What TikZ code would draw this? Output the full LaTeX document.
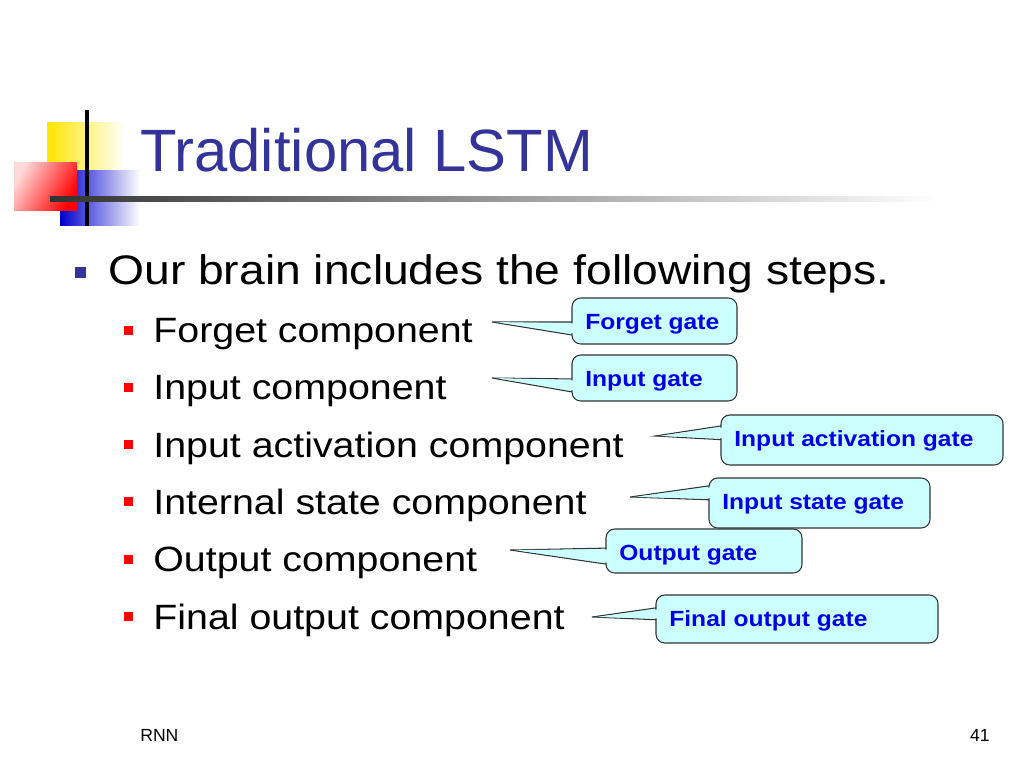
\documentclass[tikz,border=0pt]{standalone}
\usepackage{fontspec}
\setmainfont{Liberation Sans}
\newfontfamily\widesans{Liberation Sans}[FakeStretch=1.12]
\usetikzlibrary{positioning}
\definecolor{titleblue}{RGB}{51,51,153}
\definecolor{calloutfill}{RGB}{204,255,255}
\definecolor{callouttext}{RGB}{0,0,230}
\begin{document}
\begin{tikzpicture}[x=0.02cm,y=-0.02cm,
    item/.style={anchor=west,inner sep=0pt,font=\widesans\fontsize{20}{24}\selectfont},
    callbox/.style={draw=black!80,fill=calloutfill,rounded corners=5pt,line width=0.6pt},
    wedgefill/.style={fill=calloutfill,draw=black!80,line width=0.6pt},
    calltext/.style={anchor=west,inner sep=0pt,text=callouttext,font=\widesans\bfseries\fontsize{12.5}{14}\selectfont}]
\useasboundingbox (0,0) rectangle (1024,768);
% logo
\shade[left color=yellow!80!orange,right color=white] (47,122) rectangle (125,190);
\shade[left color=blue!80!black,right color=white] (60,170) rectangle (140,225);
\shade[left color=red!15,right color=red,shading angle=60] (14,162) rectangle (77,210);
\draw[line width=2pt] (87,110) -- (87,226);
\shade[left color=black!80,right color=white] (50,196) rectangle (940,201);
\node[anchor=west,inner sep=0pt,text=titleblue,font=\fontsize{34}{40}\selectfont] (title) at (140,150) {Traditional LSTM};
% bullets
\fill[titleblue] (75,267) rectangle (86,278);
\node[item,font=\widesans\fontsize{23.5}{28}\selectfont] (main) at (108,274) {Our brain includes the following steps.};
\foreach \y/\t [count=\i] in {330/Forget component,387/Input component,444/Input activation component,501/Internal state component,559/Output component,616/Final output component}{
  \fill[red] (124,\y-4) rectangle (133,\y+5);
  \node[item] (s\i) at (153,\y+4) {\t};
}
% callouts
\foreach \xa/\ya/\xb/\yb/\tx/\ty/\ba/\bb/\t [count=\i] in {
  572/298/737/344/492/322/322/336/Forget gate,
  572/355/737/401/492/378/379/393/Input gate,
  721/415/1003/465/655/436/425/440/Input activation gate,
  709/478/930/528/630/497/485/500/Input state gate,
  606/529/802/573/510/550/548/565/Output gate,
  656/595/938/643/592/617/607/620/Final output gate}{
  \coordinate (tip\i) at (\tx,\ty);
  \draw[wedgefill] (tip\i) -- (\xa+6,\ba) -- (\xa+6,\bb) -- cycle;
  \draw[callbox] (\xa,\ya) rectangle (\xb,\yb);
  \fill[calloutfill] (tip\i) ++(4,0) -- (\xa+8,\ba+1.5) -- (\xa+8,\bb-1.5) -- cycle;
  \node[calltext] (g\i) at (\xa+13,\ya+26) {\t};
}
% footer
\node[anchor=west,inner sep=0pt,font=\fontsize{10}{12}\selectfont] (foot) at (140,735) {RNN};
\node[anchor=east,inner sep=0pt,font=\fontsize{10}{12}\selectfont] (page) at (990,735) {41};
\end{tikzpicture}
\end{document}
